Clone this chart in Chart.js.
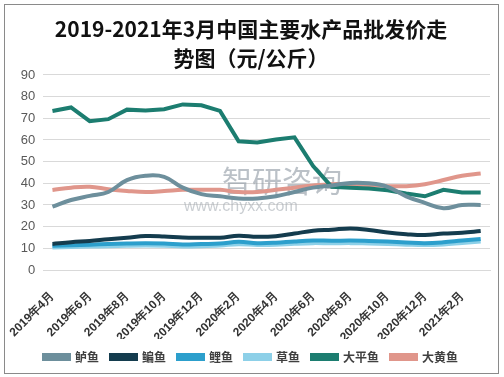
<!DOCTYPE html>
<html><head><meta charset="utf-8">
<script src="https://cdn.jsdelivr.net/npm/chart.js@4/dist/chart.umd.min.js"></script>
<style>html,body{margin:0;padding:0;background:#fff;}#wrap{width:504px;height:377px;position:relative;}</style>
</head><body><div id="wrap"><canvas id="c" width="504" height="377"></canvas></div>
<script>
const months = ['2019年4月','2019年5月','2019年6月','2019年7月','2019年8月','2019年9月','2019年10月','2019年11月','2019年12月','2020年1月','2020年2月','2020年3月','2020年4月','2020年5月','2020年6月','2020年7月','2020年8月','2020年9月','2020年10月','2020年11月','2020年12月','2021年1月','2021年2月','2021年3月'];
const luyu     = [29.2,32.3,34.2,36,41.5,43.5,43,38,35,34,33,33,34,36,38,39,40.2,40,38.4,34,31,28.5,30,30];
const bianyu   = [12,12.8,13.4,14.2,14.9,15.7,15.5,15,14.9,14.9,15.8,15.3,15.6,16.8,18.1,18.6,19.2,18.5,17.3,16.5,16.1,16.8,17.2,18];
const liyu     = [11.2,11.4,11.7,12,12.2,12.3,12.2,11.8,12,12.2,13,12.4,12.6,13.2,13.6,13.5,13.6,13.4,13.1,12.7,12.4,12.8,13.6,14.3];
const caoyu    = [10.4,10.6,10.8,11,11.2,11.3,11.2,10.9,11,11.3,11.9,11.5,11.6,12.1,12.4,12.3,12.4,12.2,12,11.7,11.5,11.8,12.5,13.2];
const dapingyu = [73.4,75,68.7,69.6,74,73.6,74.2,76.4,76,73.4,59.4,58.8,60.2,61.2,48,38.4,38,37.6,36.8,35.3,34,37,35.8,35.8];
const dahuangyu= [36.9,38,38.4,37.3,36.5,36,36.4,37,37,37,36,36,37,38,39,39.6,39.5,39.2,38.7,38.7,39.6,41.5,43.5,44.5];
const seriesNames = ['鲈鱼','鳊鱼','鲤鱼','草鱼','大平鱼','大黄鱼'];
const titleLines = ['2019-2021年3月中国主要水产品批发价走','势图（元/公斤）'];

const colors = ['#6d8f9c','#143c4e','#2c9fcc','#8dd0e8','#1c7d70','#e0968b'];
const data = [luyu,bianyu,liyu,caoyu,dapingyu,dahuangyu];
const tensions = [0.4,0.4,0.4,0.4,0,0.4];

const frame = {
  id:'frame',
  afterDraw(chart){
    const ctx = chart.ctx;
    ctx.save();
    ctx.strokeStyle = '#8a8a8a';
    ctx.lineWidth = 1;
    ctx.strokeRect(4.5,4.5,494,369);
    ctx.restore();
  },
  beforeDatasetsDraw(chart){
    const ctx = chart.ctx;
    ctx.save();
    ctx.globalAlpha = 0.6;
    ctx.fillStyle = '#8e97a2';
    ctx.font = '30px "Noto Sans CJK SC"';
    ctx.textBaseline = 'alphabetic';
    ctx.fillText('智研咨询', 222, 192);
    ctx.fillStyle = '#a6adb4';
    ctx.font = '16px "Liberation Sans"';
    ctx.fillText('www.chyxx.com', 184, 211);
    ctx.restore();
  }
};

new Chart(document.getElementById('c'), {
  type:'line',
  data:{
    labels: months,
    datasets: seriesNames.map((n,i)=>({
      label:n, data:data[i], borderColor:colors[i], backgroundColor:colors[i],
      borderWidth:4, pointRadius:0, pointHoverRadius:0, tension:tensions[i], fill:false
    }))
  },
  options:{
    responsive:false, animation:false,
    layout:{padding:{left:12,right:14,top:6,bottom:4}},
    plugins:{
      title:{display:true, text:titleLines, color:'#111', font:{family:'"Noto Sans CJK SC"', size:21, weight:'bold', lineHeight:1.38}, padding:{top:9,bottom:2}},
      legend:{position:'bottom', labels:{boxWidth:25, boxHeight:4, padding:12, color:'#404040', font:{family:'"Noto Sans CJK SC"', size:12, weight:'bold'}}},
      tooltip:{enabled:false}
    },
    scales:{
      x:{offset:true, grid:{display:false}, border:{color:'#d9d9d9'},
         afterFit(scale){ scale.height = 69; },
         ticks:{autoSkip:false, maxRotation:45, minRotation:45, padding:11, color:'#333', font:{family:'"Liberation Sans"', size:12, weight:'bold'},
           callback:function(v,i){return i%2===0?this.getLabelForValue(v):'';}}},
      y:{min:0,max:90, grid:{color:'#d9d9d9', drawTicks:false}, border:{display:false},
         ticks:{stepSize:10, padding:8, color:'#595959', font:{family:'"Liberation Sans"', size:13}}}
    }
  },
  plugins:[frame]
});
</script></body></html>
